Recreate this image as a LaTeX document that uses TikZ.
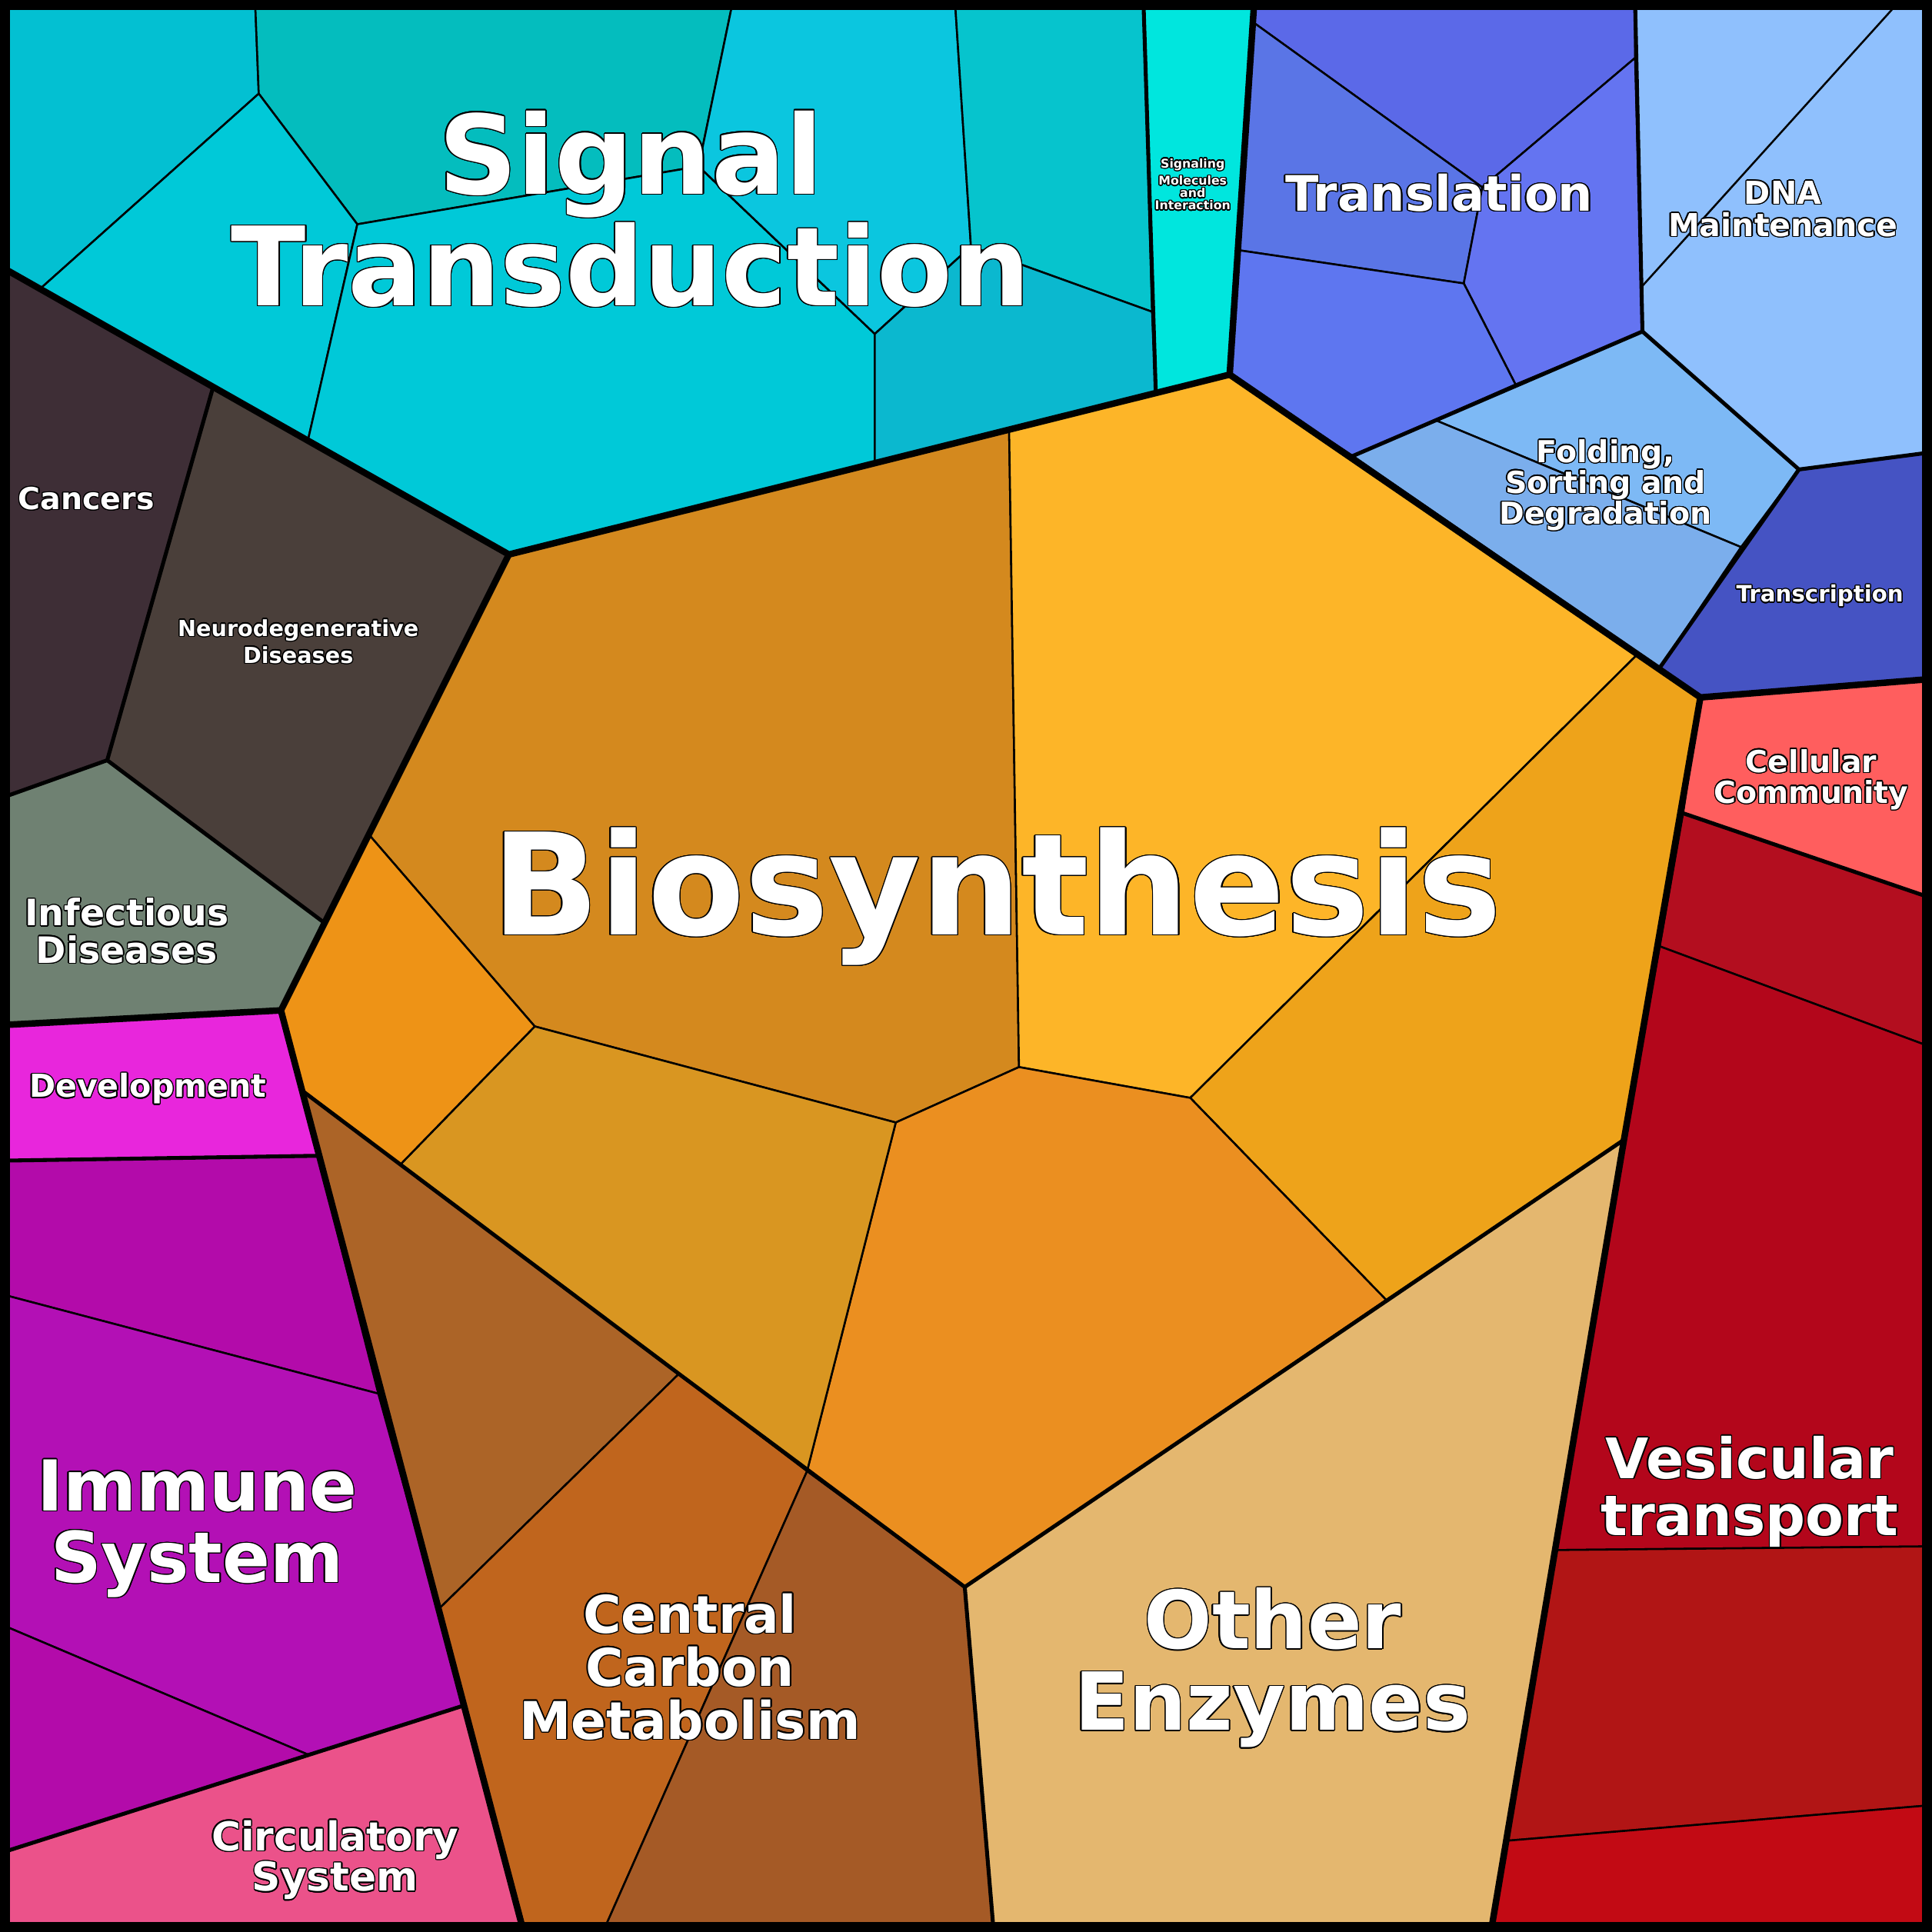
\documentclass[tikz,border=0pt]{standalone}
\usepackage{fontspec}
\setmainfont{DejaVu Sans}
\usepackage{contour}
\contourlength{0.25pt}
\definecolor{bioA}{HTML}{D4891E}
\definecolor{bioB}{HTML}{FDB528}
\definecolor{bioC}{HTML}{EEA31A}
\definecolor{bioD}{HTML}{EB8F20}
\definecolor{bioE}{HTML}{D99621}
\definecolor{bioF}{HTML}{EE9316}
\definecolor{ccA}{HTML}{AC6427}
\definecolor{ccB}{HTML}{C0651D}
\definecolor{ccC}{HTML}{A55A26}
\definecolor{enz}{HTML}{E4B76F}
\definecolor{sigA}{HTML}{03C0D2}
\definecolor{sigB}{HTML}{04BDBE}
\definecolor{sigC}{HTML}{00C9D8}
\definecolor{sigD}{HTML}{0BC6DF}
\definecolor{sigE}{HTML}{06C4CD}
\definecolor{sigF}{HTML}{0BB8CF}
\definecolor{smol}{HTML}{00E6DE}
\definecolor{trA}{HTML}{5B69E8}
\definecolor{trB}{HTML}{5A75E6}
\definecolor{trC}{HTML}{6474F1}
\definecolor{trD}{HTML}{5E76F0}
\definecolor{dna}{HTML}{8FC0FD}
\definecolor{foldA}{HTML}{7DB9F5}
\definecolor{foldB}{HTML}{7BAEEC}
\definecolor{trsc}{HTML}{4553C3}
\definecolor{ccom}{HTML}{FF5E5E}
\definecolor{vesA}{HTML}{B30E1F}
\definecolor{vesB}{HTML}{B3061B}
\definecolor{vesC}{HTML}{B11515}
\definecolor{vesD}{HTML}{C20A14}
\definecolor{canc}{HTML}{3E2E36}
\definecolor{neuro}{HTML}{4A3F3A}
\definecolor{infec}{HTML}{6F8172}
\definecolor{devel}{HTML}{E826DC}
\definecolor{immA}{HTML}{B30BAA}
\definecolor{immB}{HTML}{B310B5}
\definecolor{circ}{HTML}{EB528A}
\newcommand{\cl}[1]{\contour{black}{#1}}
\newcommand{\fs}[1]{\fontsize{#1}{1.02\dimexpr#1pt\relax}\selectfont\bfseries}

\begin{document}
\begin{tikzpicture}[x=0.01cm, y=-0.01cm,
        cell/.style={draw=black, line width=0.45pt},
        mid/.style={draw=black, line width=0.9pt, line join=round},
        top/.style={draw=black, line width=1.5pt, line join=round},
        lbl/.style={text=white, align=center, inner sep=0pt}
    ]
    \useasboundingbox (0,0) rectangle (1568,1568);

    % metabolism
    \filldraw[cell, fill=bioA] (413,450) -- (819,350) -- (827,866) -- (727,911) -- (434,833) -- (300,678) -- cycle;
    \filldraw[cell, fill=bioB] (819,350) -- (998,304) -- (1328,532) -- (966,891) -- (827,866) -- cycle;
    \filldraw[cell, fill=bioC] (1328,532) -- (1380,566) -- (1318,925) -- (1125,1055) -- (966,891) -- cycle;
    \filldraw[cell, fill=bioD] (966,891) -- (1125,1055) -- (783,1288) -- (655,1194) -- (727,911) -- (827,866) -- cycle;
    \filldraw[cell, fill=bioE] (434,833) -- (727,911) -- (655,1194) -- (551,1115) -- (325,945) -- cycle;
    \filldraw[cell, fill=bioF] (300,678) -- (434,833) -- (325,945) -- (245,885) -- (228,820) -- cycle;
    \filldraw[cell, fill=ccA] (245,885) -- (325,945) -- (551,1115) -- (357,1305) -- cycle;
    \filldraw[cell, fill=ccB] (357,1305) -- (551,1115) -- (655,1194) -- (492,1562) -- (425,1562) -- cycle;
    \filldraw[cell, fill=ccC] (655,1194) -- (783,1288) -- (806,1562) -- (492,1562) -- cycle;
    \filldraw[cell, fill=enz] (1318,925) -- (1210,1562) -- (806,1562) -- (783,1288) -- cycle;

    % environmental information
    \filldraw[cell, fill=sigA] (0,0) -- (207,0) -- (210,76) -- (33,234) -- (0,216) -- cycle;
    \filldraw[cell, fill=sigB] (207,0) -- (595,0) -- (567,135) -- (290,182) -- (210,76) -- cycle;
    \filldraw[cell, fill=sigC] (210,76) -- (290,182) -- (250,357) -- (33,234) -- cycle;
    \filldraw[cell, fill=sigC] (290,182) -- (567,135) -- (710,271) -- (710,376) -- (413,450) -- (250,357) -- cycle;
    \filldraw[cell, fill=sigD] (595,0) -- (775,0) -- (788,200) -- (710,271) -- (567,135) -- cycle;
    \filldraw[cell, fill=sigE] (775,0) -- (928,0) -- (935,253) -- (788,200) -- cycle;
    \filldraw[cell, fill=sigF] (788,200) -- (935,253) -- (938,318) -- (710,376) -- (710,271) -- cycle;
    \filldraw[cell, fill=smol] (928,0) -- (1018,0) -- (998,304) -- (938,318) -- cycle;

    % genetic information
    \filldraw[cell, fill=trA] (1018,0) -- (1327,0) -- (1327,47) -- (1203,152) -- (1017,18) -- cycle;
    \filldraw[cell, fill=trB] (1017,18) -- (1203,152) -- (1188,230) -- (1005,203) -- cycle;
    \filldraw[cell, fill=trC] (1203,152) -- (1327,47) -- (1333,269) -- (1230,312) -- (1188,230) -- cycle;
    \filldraw[cell, fill=trD] (1005,203) -- (1188,230) -- (1230,312) -- (1098,370) -- (998,304) -- cycle;
    \filldraw[cell, fill=dna] (1327,0) -- (1568,0) -- (1568,367) -- (1460,381) -- (1333,269) -- cycle;
    \draw[cell] (1538,5) -- (1333,232);
    \filldraw[cell, fill=foldA] (1098,370) -- (1333,269) -- (1460,381) -- (1413,444) -- (1165,341) -- cycle;
    \filldraw[cell, fill=foldB] (1098,370) -- (1165,341) -- (1413,444) -- (1347,542) -- cycle;
    \filldraw[cell, fill=trsc] (1460,381) -- (1568,367) -- (1568,551) -- (1380,566) -- (1347,542) -- cycle;

    % cellular processes
    \filldraw[cell, fill=ccom] (1380,566) -- (1568,551) -- (1568,729) -- (1366,660) -- cycle;
    \filldraw[cell, fill=vesA] (1366,660) -- (1568,729) -- (1568,850) -- (1347,768) -- cycle;
    \filldraw[cell, fill=vesB] (1347,768) -- (1568,850) -- (1568,1255) -- (1263,1258) -- (1318,925) -- cycle;
    \filldraw[cell, fill=vesC] (1263,1258) -- (1568,1255) -- (1568,1465) -- (1222,1494) -- cycle;
    \filldraw[cell, fill=vesD] (1222,1494) -- (1568,1465) -- (1568,1568) -- (1210,1568) -- cycle;

    % human diseases
    \filldraw[cell, fill=canc] (0,216) -- (173,314) -- (87,617) -- (0,648) -- cycle;
    \filldraw[cell, fill=neuro] (173,314) -- (413,450) -- (262,748) -- (87,617) -- cycle;
    \filldraw[cell, fill=infec] (0,648) -- (87,617) -- (262,748) -- (228,820) -- (0,832) -- cycle;

    % organismal systems
    \filldraw[cell, fill=devel] (0,832) -- (228,820) -- (258,938) -- (0,942) -- cycle;
    \filldraw[cell, fill=immA] (0,942) -- (258,938) -- (307,1131) -- (0,1050) -- cycle;
    \filldraw[cell, fill=immB] (0,1050) -- (307,1131) -- (377,1384) -- (250,1424) -- (0,1318) -- cycle;
    \filldraw[cell, fill=immA] (0,1318) -- (250,1424) -- (0,1504) -- cycle;
    \filldraw[cell, fill=circ] (0,1504) -- (377,1384) -- (425,1562) -- (425,1568) -- (0,1568) -- cycle;

    % second level borders
    \draw[mid] (1318,925) -- (783,1288);
    \draw[mid] (228,820) -- (245,885) -- (551,1115) -- (783,1288) -- (806,1562);
    \draw[mid] (928,0) -- (938,318);
    \draw[mid] (1327,0) -- (1333,269) -- (1460,381) -- (1568,367);
    \draw[mid] (1098,370) -- (1333,269);
    \draw[mid] (1460,381) -- (1347,542);
    \draw[mid] (1366,660) -- (1568,729);
    \draw[mid] (0,648) -- (87,617) -- (173,314);
    \draw[mid] (87,617) -- (262,748);
    \draw[mid] (0,942) -- (258,938);
    \draw[mid] (0,1504) -- (377,1384);

    % top level borders
    \draw[top] (0,216) -- (413,450) -- (998,304) -- (1018,0);
    \draw[top] (998,304) -- (1380,566) -- (1568,551);
    \draw[top] (1380,566) -- (1318,925) -- (1210,1568);
    \draw[top] (413,450) -- (228,820) -- (425,1568);
    \draw[top] (228,820) -- (0,832);
    \draw[draw=black, line width=2.3pt] (4,4) rectangle (1564,1564);

    % labels
    \node[lbl, font=\fs{25.3}] (sig) at (512,170) {\cl{Signal}\\\cl{Transduction}};
    \node[lbl, font=\fs{2.8}] (smol) at (968,150) {\cl{Signaling}\\\cl{Molecules}\\\cl{and}\\\cl{Interaction}};
    \node[lbl, font=\fs{32.6}] (bio) at (809,728) {\cl{Biosynthesis}};
    \node[lbl, font=\fs{11.3}] (trl) at (1168,157) {\cl{Translation}};
    \node[lbl, font=\fs{7.3}] (dna) at (1447,170) {\cl{DNA}\\\cl{Maintenance}};
    \node[lbl, font=\fs{7}] (fold) at (1303,394) {\cl{Folding,}\\\cl{Sorting and}\\\cl{Degradation}};
    \node[lbl, font=\fs{5.2}] (trsc) at (1477,484) {\cl{Transcription}};
    \node[lbl, font=\fs{7}] (ccom) at (1470,633) {\cl{Cellular}\\\cl{Community}};
    \node[lbl, font=\fs{12.9}] (ves) at (1420,1211) {\cl{Vesicular}\\\cl{transport}};
    \node[lbl, font=\fs{18.5}] (enz) at (1033,1354) {\cl{Other}\\\cl{Enzymes}};
    \node[lbl, font=\fs{12}] (ccm) at (560,1353) {\cl{Central}\\\cl{Carbon}\\\cl{Metabolism}};
    \node[lbl, font=\fs{16.2}] (imm) at (160,1241) {\cl{Immune}\\\cl{System}};
    \node[lbl, font=\fs{9.2}] (circ) at (272,1510) {\cl{Circulatory}\\\cl{System}};
    \node[lbl, font=\fs{7.3}] (dev) at (120,884) {\cl{Development}};
    \node[lbl, font=\fs{8.4}] (inf) at (103,756) {\cl{Infectious}\\\cl{Diseases}};
    \node[lbl, font=\fs{5.1}] (neu) at (242,521) {\cl{Neurodegenerative}\\\cl{Diseases}};
    \node[lbl, font=\fs{7}] (canc) at (70,405) {\cl{Cancers}};
\end{tikzpicture}
\end{document}
